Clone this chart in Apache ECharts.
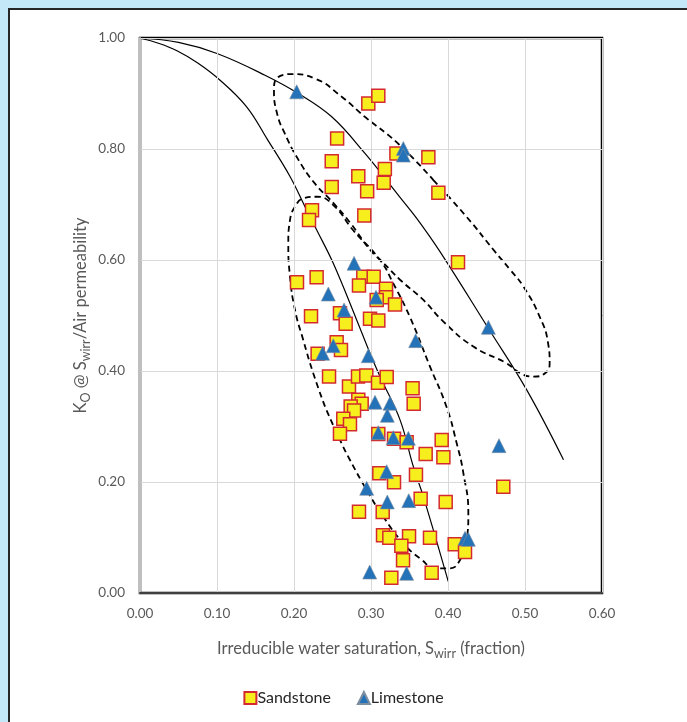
<!DOCTYPE html>
<html>
<head>
<meta charset="utf-8">
<script src="https://cdn.jsdelivr.net/npm/echarts@6/dist/echarts.min.js"></script>
<style>
html,body{margin:0;padding:0;background:#c5e8f8;}
#chart{width:687px;height:722px;}
</style>
</head>
<body>
<div id="chart"></div>
<script>
// ---- data ----
const xTicks = [0, 0.1, 0.2, 0.3, 0.4, 0.5, 0.6];
const yTicks = [0, 0.2, 0.4, 0.6, 0.8, 1.0];

const sandstone = [
  [0.2965,0.882],[0.3095,0.896],[0.256,0.819],[0.333,0.792],[0.249,0.778],[0.318,0.764],
  [0.2835,0.751],[0.3165,0.739],[0.249,0.7315],[0.295,0.724],[0.3745,0.785],[0.3875,0.721],
  [0.2234,0.6895],[0.2195,0.672],[0.2913,0.680],[0.413,0.596],[0.2039,0.560],[0.2294,0.569],
  [0.290,0.570],[0.3035,0.570],[0.2844,0.554],[0.3195,0.548],[0.3195,0.533],[0.3074,0.528],
  [0.3312,0.520],[0.2597,0.504],[0.2671,0.485],[0.2221,0.4985],[0.2987,0.494],[0.3095,0.491],
  [0.2554,0.452],[0.261,0.438],[0.2307,0.431],[0.2455,0.390],[0.2714,0.372],[0.2831,0.390],
  [0.2939,0.392],[0.3091,0.379],[0.3204,0.389],[0.354,0.369],[0.3554,0.341],[0.2835,0.348],
  [0.2879,0.341],[0.2736,0.336],[0.278,0.329],[0.264,0.314],[0.2727,0.304],[0.2597,0.287],
  [0.3095,0.2865],[0.3299,0.278],[0.3463,0.2715],[0.3108,0.2156],[0.3584,0.2132],[0.3918,0.2757],
  [0.371,0.2505],[0.394,0.2445],[0.4718,0.1915],[0.3299,0.1994],[0.3645,0.170],[0.397,0.164],
  [0.2844,0.1465],[0.3152,0.146],[0.3156,0.104],[0.3238,0.0997],[0.3494,0.1021],[0.3766,0.0997],
  [0.3394,0.0853],[0.4087,0.0877],[0.4221,0.0739],[0.3416,0.0589],[0.3788,0.0366],[0.3264,0.0276]
];

const limestone = [
  [0.2035,0.903],[0.342,0.801],[0.342,0.789],[0.278,0.594],[0.2446,0.5387],[0.3065,0.533],
  [0.265,0.510],[0.358,0.4547],[0.4524,0.4787],[0.251,0.4456],[0.2372,0.4318],[0.2965,0.4276],
  [0.3052,0.3436],[0.3247,0.3418],[0.3212,0.3201],[0.3095,0.2889],[0.329,0.2799],[0.3485,0.2787],
  [0.4662,0.2655],[0.3204,0.2186],[0.2944,0.1886],[0.3212,0.164],[0.349,0.1664],[0.4221,0.0985],
  [0.4264,0.0967],[0.2983,0.0378],[0.3463,0.0354]
];

const curveA = [
  [0,1],[0.025,0.99],[0.048,0.977],[0.075,0.955],[0.104,0.924],[0.1385,0.876],[0.166,0.816],
  [0.195,0.75],[0.2143,0.696],[0.2295,0.654],[0.251,0.594],[0.2814,0.492],[0.2987,0.432],
  [0.3117,0.39],[0.3377,0.312],[0.355,0.2276],[0.368,0.1736],[0.4004,0.0204]
];

const curveB = [
  [0,1],[0.05,0.992],[0.1,0.972],[0.1623,0.933],[0.2056,0.9],[0.249,0.858],[0.2922,0.792],
  [0.3377,0.713],[0.3594,0.675],[0.3896,0.615],[0.4523,0.477],[0.5022,0.366],[0.55,0.24]
];

const ellipseUpper = [
  [0.381,0.744],[0.424,0.678],[0.461,0.615],[0.481,0.582],[0.498,0.552],[0.519,0.498],
  [0.530,0.450],[0.532,0.414],[0.526,0.396],[0.511,0.390],[0.494,0.396],[0.476,0.414],
  [0.433,0.444],[0.394,0.489],[0.368,0.528],[0.338,0.564],[0.316,0.595],[0.299,0.618],
  [0.273,0.667],[0.251,0.703],[0.227,0.738],[0.206,0.780],[0.188,0.828],[0.178,0.864],
  [0.174,0.906],[0.175,0.921],[0.195,0.935],[0.227,0.927],[0.262,0.894],[0.292,0.858],
  [0.335,0.810],[0.381,0.744]
];

const ellipseLower = [
  [0.2403,0.3357],[0.225,0.3959],[0.212,0.4559],[0.2013,0.51],[0.1948,0.570],[0.1926,0.630],
  [0.1948,0.672],[0.2013,0.696],[0.212,0.711],[0.2295,0.714],[0.251,0.699],[0.2766,0.654],
  [0.3117,0.600],[0.3286,0.5586],[0.3506,0.497],[0.3766,0.408],[0.398,0.3357],[0.4113,0.2697],
  [0.420,0.2157],[0.4264,0.1436],[0.4243,0.0955],[0.4156,0.0595],[0.4026,0.0445],[0.3853,0.0445],
  [0.3636,0.0625],[0.342,0.0895],[0.316,0.1375],[0.2944,0.1856],[0.2727,0.2396],[0.2597,0.2757],
  [0.2403,0.3357]
];

const FONT = 'Lato';
const chart = echarts.init(document.getElementById('chart'), null, {renderer: 'canvas'});

const lineSeries = (name, data, dashed) => ({
  name, type: 'line', data, symbol: 'none', smooth: dashed ? 0.5 : 0.4,
  lineStyle: {color: '#000', width: dashed ? 1.8 : 1.2, type: dashed ? [6, 4] : 'solid'},
  silent: true, z: 2, animation: false
});

const titleRich = {
  a: {fontFamily: FONT, fontSize: 16.5, color: '#595959', lineHeight: 22},
  s: {fontFamily: FONT, fontSize: 12.5, color: '#595959', padding: [10, 0, 0, 0]}
};

chart.setOption({
  animation: false,
  backgroundColor: '#c5e8f8',
  graphic: [{
    type: 'rect', z: -10, silent: true,
    shape: {x: 9, y: 9, width: 700, height: 740},
    style: {fill: '#ffffff', stroke: '#262626', lineWidth: 2}
  }],
  textStyle: {fontFamily: FONT},
  grid: {left: 140, right: 85, top: 38, bottom: 129, show: true, borderColor: '#000', borderWidth: 2.5, backgroundColor: 'transparent'},
  legend: {
    bottom: 11, left: 'center', itemWidth: 12, itemHeight: 12, itemGap: 26,
    textStyle: {fontFamily: FONT, fontSize: 16, color: '#262626', padding: [0, 0, 0, -4]},
    data: [{name: 'Sandstone', icon: 'rect'}, {name: 'Limestone', icon: 'triangle'}]
  },
  xAxis: {
    type: 'value', min: xTicks[0], max: xTicks[xTicks.length - 1], interval: 0.1, z: 3,
    axisLine: {show: true, onZero: false, lineStyle: {color: '#404040', width: 2}},
    axisTick: {show: false},
    splitLine: {show: true, lineStyle: {color: '#d9d9d9', width: 1}},
    axisLabel: {fontFamily: FONT, fontSize: 13.5, color: '#595959', margin: 14, formatter: v => v.toFixed(2)},
    name: '{a|Irreducible water saturation, S}{s|wirr}{a| (fraction)}',
    nameLocation: 'middle', nameGap: 44, nameMoveOverlap: false,
    nameTextStyle: {rich: titleRich}
  },
  yAxis: {
    type: 'value', min: yTicks[0], max: yTicks[yTicks.length - 1], interval: 0.2, z: 3,
    axisLine: {show: true, onZero: false, lineStyle: {color: '#bfbfbf', width: 2}},
    axisTick: {show: false},
    splitLine: {show: true, lineStyle: {color: '#d9d9d9', width: 1}},
    axisLabel: {fontFamily: FONT, fontSize: 13.5, color: '#595959', margin: 15, formatter: v => v.toFixed(2)},
    name: '{a|K}{s|O}{a| @ S}{s|wirr}{a|/Air permeability}',
    nameLocation: 'middle', nameGap: 48, nameMoveOverlap: false,
    nameTextStyle: {rich: titleRich}
  },
  series: [
    lineSeries('curveA', curveA, false),
    lineSeries('curveB', curveB, false),
    lineSeries('ellipseUpper', ellipseUpper, true),
    lineSeries('ellipseLower', ellipseLower, true),
    {
      name: 'Sandstone', type: 'scatter', data: sandstone, symbol: 'rect', symbolSize: 13, z: 4,
      itemStyle: {color: '#f7ef1d', borderColor: '#d42a2f', borderWidth: 1.5, opacity: 1}
    },
    {
      name: 'Limestone', type: 'scatter', data: limestone, symbol: 'triangle', symbolSize: 14, z: 5,
      itemStyle: {color: '#2472b8', borderColor: '#7f8fa0', borderWidth: 0.6, opacity: 1}
    }
  ]
});
</script>
</body>
</html>
